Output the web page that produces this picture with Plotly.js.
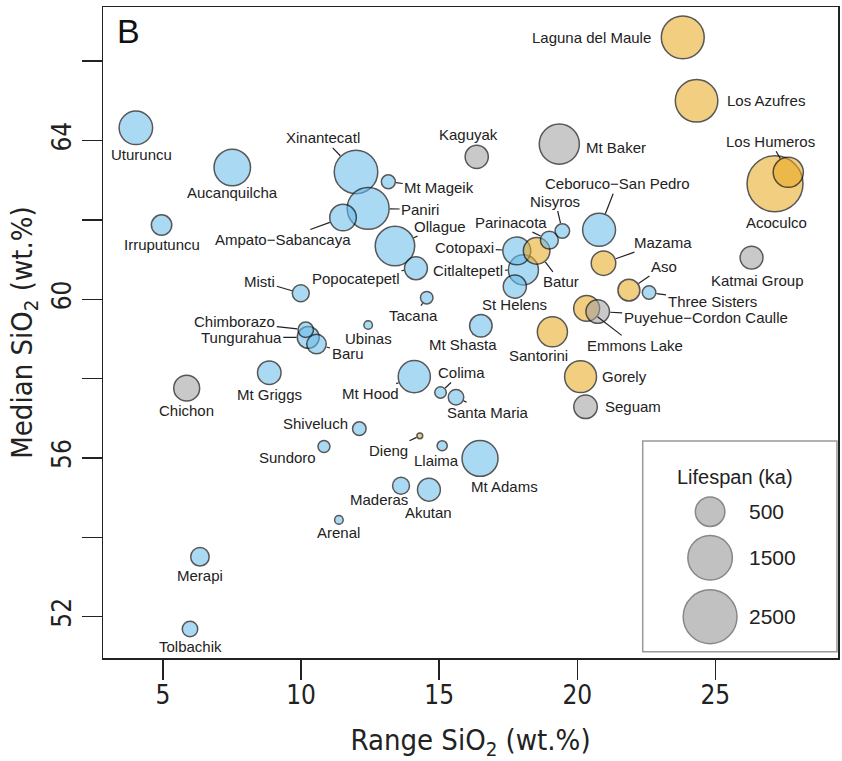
<!DOCTYPE html>
<html>
<head>
<meta charset="utf-8">
<script src="https://cdn.plot.ly/plotly-3.0.1.min.js"></script>
<style>html,body{margin:0;padding:0;background:#fff}#chart{width:842px;height:761px}</style>
</head>
<body>
<div id="chart"></div>
<script>
// ---------------- DATA ----------------
const names = ["Uturuncu","Aucanquilcha","Irruputuncu","Xinantecatl","Mt Mageik","Paniri","Ampato\u2212Sabancaya","Ollague",
  "Kaguyak","Mt Baker","Laguna del Maule","Los Azufres","Acoculco","Los Humeros","Ceboruco\u2212San Pedro","Nisyros",
  "Parinacota","Batur","Cotopaxi","Citlaltepetl","St Helens","Mazama","Aso","Three Sisters","Katmai Group","Emmons Lake",
  "Puyehue\u2212Cordon Caulle","Santorini","Gorely","Seguam","Misti","Chimborazo","Tungurahua","Baru","Popocatepetl",
  "Tacana","Ubinas","Mt Shasta","Mt Griggs","Chichon","Mt Hood","Colima","Santa Maria","Shiveluch","Dieng","Llaima",
  "Mt Adams","Maderas","Akutan","Arenal","Sundoro","Merapi","Tolbachik"];
const rangeSiO2 = [4.02,7.51,4.95,11.99,13.16,12.43,11.52,13.40,
  16.36,19.35,23.82,24.32,27.16,27.64,20.79,19.46,
  18.99,18.53,17.81,18.05,17.74,20.95,21.87,22.60,26.31,20.34,
  20.74,19.10,20.12,20.30,9.99,10.17,10.26,10.56,14.16,
  14.55,12.43,16.51,8.85,5.86,14.10,15.05,15.61,12.11,14.30,15.11,
  16.48,13.62,14.63,11.37,10.83,6.34,5.98];
const medianSiO2 = [64.32,63.32,61.87,63.21,62.96,62.29,62.06,61.34,
  63.59,63.91,66.60,65.00,62.91,63.20,61.75,61.72,
  61.49,61.22,61.22,60.74,60.32,60.91,60.23,60.17,61.05,59.77,
  59.69,59.18,58.05,57.29,60.15,59.23,59.04,58.87,60.78,
  60.04,59.35,59.33,58.15,57.76,58.05,57.65,57.53,56.74,56.56,56.31,
  55.99,55.30,55.20,54.44,56.29,53.51,51.69];
const lifespanKa = [700,880,190,1410,72,1275,380,1090,
  265,1135,1360,1325,2775,530,670,80,
  136,380,433,528,264,307,229,67,257,355,
  276,528,616,276,118,94,229,170,257,
  55,22,246,276,355,626,45,94,67,9,33,
  845,118,257,22,49,148,94];
// A = blue, B = orange, C = grey
const group = ["A","A","A","A","A","A","A","A",
  "C","C","B","B","B","B","A","A",
  "A","B","A","A","A","B","B","A","C","B",
  "C","B","B","C","A","A","A","A","A",
  "A","A","A","A","C","A","A","A","A","B","A",
  "A","A","A","A","A","A","A"];
const legendLifespans = [500,1500,2500];
const legendLabels = ["500","1500","2500"];
const xTickVals = [5,10,15,20,25];
const yTickVals = [52,56,60,64];
const yMinorStep = 2;

// ---------------- STYLE ----------------
const fillColors = {A:"rgba(105,187,235,0.8)", B:"rgba(232,169,32,0.8)", C:"rgba(160,160,160,0.8)"};
function outerRadius(L){ return 1.654*Math.pow(L,0.36); }
function markerSize(L){ return 2*outerRadius(L) - 1.5; }
// label offsets in px from bubble centre to label centre: [dx, dy(down), leader line]
const labelPos = {
  "Uturuncu":[6,27,0],"Aucanquilcha":[0,25,0],"Irruputuncu":[0,19,0],"Xinantecatl":[-33,-34,1],
  "Mt Mageik":[51,6,1],"Paniri":[52,1,1],"Ampato\u2212Sabancaya":[-60,22,1],"Ollague":[45,-20,1],
  "Kaguyak":[-8,-22,0],"Mt Baker":[57,3,0],"Laguna del Maule":[-91,0,0],"Los Azufres":[69,0,0],
  "Acoculco":[1,39,0],"Los Humeros":[-18,-31,1],"Ceboruco\u2212San Pedro":[18,-46,1],"Nisyros":[-7,-30,1],
  "Parinacota":[-38,-18,1],"Batur":[24,31,1],"Cotopaxi":[-52,-3,1],"Citlaltepetl":[-55,1,1],
  "St Helens":[0,18,0],"Mazama":[59,-21,1],"Aso":[35,-24,1],"Three Sisters":[63,9,1],
  "Katmai Group":[6,23,0],"Emmons Lake":[48,37,1],"Puyehue\u2212Cordon Caulle":[108,6,1],"Santorini":[-14,24,1],
  "Gorely":[44,0,0],"Seguam":[47,0,0],"Misti":[-41,-12,1],"Chimborazo":[-71,-8,1],
  "Tungurahua":[-67,0,1],"Baru":[31,9,1],"Popocatepetl":[-60,10,1],"Tacana":[-13,18,1],
  "Ubinas":[0,13,1],"Mt Shasta":[-18,19,1],"Mt Griggs":[0,22,0],"Chichon":[0,22,0],
  "Mt Hood":[-44,17,1],"Colima":[21,-20,1],"Santa Maria":[32,15,1],"Shiveluch":[-44,-5,0],
  "Sundoro":[-36,11,0],"Dieng":[-31,15,1],"Llaima":[-6,15,0],"Mt Adams":[24,28,0],
  "Maderas":[-22,14,0],"Akutan":[0,23,0],"Arenal":[0,13,0],"Merapi":[0,19,0],"Tolbachik":[0,17,0]
};
const labelFont = {family:"Liberation Sans, Arial, sans-serif", size:15, color:"#222"};
const axisFont = "DejaVu Sans Condensed, DejaVu Sans, sans-serif";

// draw bigger bubbles first
const order = names.map((_, i) => i).sort((a, b) => lifespanKa[b] - lifespanKa[a]);

const bubbles = {
  type:"scatter", mode:"markers", xaxis:"x", yaxis:"y",
  x: order.map(i => rangeSiO2[i]),
  y: order.map(i => medianSiO2[i]),
  text: order.map(i => names[i]),
  hoverinfo:"text",
  marker:{
    size: order.map(i => markerSize(lifespanKa[i])),
    color: order.map(i => fillColors[group[i]]),
    line:{color:"#111", width:1.5}
  },
  showlegend:false
};

const legendPos = {x:0.826, y:[0.2247, 0.154, 0.0634], labelX:0.876, titleX:0.86, titleY:0.2785};
const legendTrace = {
  type:"scatter", mode:"markers", xaxis:"x2", yaxis:"y2",
  x: legendLifespans.map(() => legendPos.x),
  y: legendPos.y,
  hoverinfo:"skip",
  marker:{size: legendLifespans.map(markerSize), color:"#a8a8a8", line:{color:"#555", width:1.5}},
  showlegend:false
};

const annotations = names.map((n, i) => {
  const p = labelPos[n];
  const base = {x: rangeSiO2[i], y: medianSiO2[i], xref:"x", yref:"y", text: n, font: labelFont};
  if (p[2]) {
    return Object.assign(base, {showarrow:true, ax:p[0], ay:p[1], arrowhead:0, arrowwidth:1.2,
      arrowcolor:"#222", standoff: outerRadius(lifespanKa[i])});
  }
  return Object.assign(base, {showarrow:false, xshift:p[0], yshift:-p[1]});
});
annotations.push({xref:"paper", yref:"paper", x:0.0347, y:0.9624, xanchor:"center", yanchor:"middle",
  text:"B", showarrow:false, font:{family:"Liberation Sans, Arial, sans-serif", size:34, color:"#111"}});
annotations.push({xref:"paper", yref:"paper", x:legendPos.titleX, y:legendPos.titleY, xanchor:"center", yanchor:"middle",
  text:"Lifespan (ka)", showarrow:false, font:{family:"Liberation Sans, Arial, sans-serif", size:20, color:"#222"}});
legendLabels.forEach((t, k) => annotations.push({xref:"paper", yref:"paper", x:legendPos.labelX, y:legendPos.y[k],
  xanchor:"left", yanchor:"middle", text:t, showarrow:false,
  font:{family:"Liberation Sans, Arial, sans-serif", size:21, color:"#222"}}));

const axisCommon = {
  ticks:"outside", ticklen:20, tickwidth:1.5, tickcolor:"#222",
  showline:true, mirror:true, linecolor:"#222", linewidth:1.5,
  showgrid:false, zeroline:false,
  tickfont:{family:axisFont, size:26, color:"#222"}
};

const layout = {
  width:842, height:761,
  margin:{l:103, r:4, t:7, b:103},
  paper_bgcolor:"#fff", plot_bgcolor:"#fff",
  xaxis: Object.assign({}, axisCommon, {
    range:[2.83, 29.44], tickmode:"array", tickvals:xTickVals, ticklabelstandoff:-7,
    title:{text:"Range SiO<sub>2</sub> (wt.%)", font:{family:axisFont, size:29, color:"#222"}, standoff:22}
  }),
  yaxis: Object.assign({}, axisCommon, {
    range:[50.96, 67.365], tickmode:"array", tickvals:yTickVals, tickangle:-90,
    ticklabelstandoff:0,
    minor:{dtick:yMinorStep, ticks:"outside", ticklen:20, tickwidth:1.5, tickcolor:"#222", showgrid:false},
    title:{text:"Median SiO<sub>2</sub> (wt.%)", font:{family:axisFont, size:29, color:"#222"}, standoff:6}
  }),
  xaxis2:{overlaying:"x", anchor:"y2", range:[0,1], visible:false},
  yaxis2:{overlaying:"y", anchor:"x2", range:[0,1], visible:false},
  shapes:[{type:"rect", xref:"paper", yref:"paper", x0:0.7343, x1:0.9986, y0:0.0097, y1:0.3333,
    line:{color:"#999", width:1.5}}],
  annotations: annotations
};

Plotly.newPlot("chart", [bubbles, legendTrace], layout, {displayModeBar:false, staticPlot:true});
</script>
</body>
</html>
